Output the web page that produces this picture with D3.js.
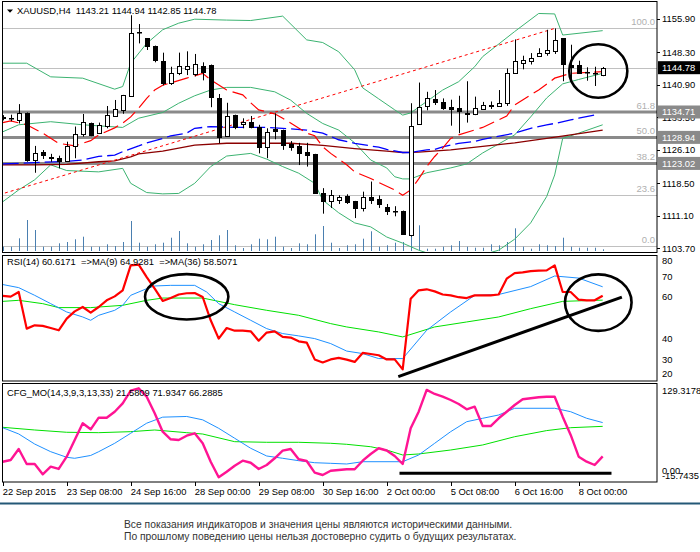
<!DOCTYPE html>
<html>
<head>
<meta charset="utf-8">
<script src="https://cdn.jsdelivr.net/npm/d3@7"></script>
<style>
  body { margin: 0; background: #fff; }
  svg text { font-family: "Liberation Sans", Arial, sans-serif; white-space: pre; }
</style>
</head>
<body>
<script>
'use strict';

// ---- values ----
const opens  = [1133.5,1133.3,1133.05,1134.55,1123.96,1125.55,1124.55,1124.25,1123.4,1126.82,
  1129.64,1132.14,1129.87,1131.37,1133.8,1135.05,1138.5,1152.8,1151.46,1149.71,
  1146.28,1141.35,1143.53,1144.6,1143.4,1145.05,1145.28,1137.94,1129.26,1134.03,
  1132.0,1132.44,1131.23,1126.69,1130.78,1130.62,1127.37,1126.98,1125.7,1125.16,
  1116.37,1114.44,1114.9,1115.7,1114.48,1113.05,1115.3,1114.94,1113.05,1112.3,
  1112.2,1106.9,1131.98,1135.9,1137.6,1136.9,1135.85,1135.55,1134.5,1134.25,
  1135.5,1136.3,1136.0,1136.6,1143.5,1145.9,1146.25,1147.6,1148.15,1148.5,
  1151.46,1145.5,1145.39,1143.8,1143.55,1143.21];
const highs  = [1134.0,1134.1,1136.5,1134.6,1127.0,1126.07,1125.2,1124.78,1127.96,1131.4,
  1134.26,1132.3,1132.3,1136.07,1137.44,1138.6,1156.7,1154.7,1151.5,1149.8,
  1148.19,1145.0,1148.2,1148.5,1147.9,1146.0,1145.5,1138.8,1136.8,1134.1,
  1133.28,1133.8,1131.8,1131.0,1134.4,1130.7,1128.1,1127.7,1127.7,1125.2,
  1117.4,1116.98,1115.8,1116.0,1114.5,1116.6,1118.9,1115.75,1113.8,1113.3,
  1112.3,1136.7,1141.4,1139.3,1139.7,1137.8,1137.5,1138.4,1141.7,1138.2,
  1137.0,1137.1,1139.7,1144.6,1151.2,1147.5,1148.1,1149.2,1153.4,1153.7,
  1151.5,1150.0,1146.37,1144.87,1145.0,1144.94];
const lows   = [1132.8,1132.6,1132.1,1123.4,1120.9,1124.03,1123.4,1121.9,1123.4,1124.2,
  1129.1,1129.2,1129.7,1131.0,1133.65,1134.3,1138.4,1150.3,1148.8,1146.0,
  1140.76,1140.85,1143.1,1143.1,1142.8,1141.9,1135.8,1127.6,1129.1,1130.8,
  1131.0,1131.0,1125.3,1124.2,1128.5,1126.1,1125.9,1122.65,1122.3,1116.3,
  1111.6,1112.9,1113.8,1113.8,1110.6,1112.1,1113.8,1112.9,1111.3,1111.0,
  1106.8,1106.4,1131.9,1135.1,1136.3,1135.2,1131.6,1129.9,1132.3,1134.0,
  1135.2,1135.4,1135.9,1136.1,1143.4,1144.4,1145.5,1147.4,1147.5,1147.9,
  1141.7,1141.6,1143.35,1141.82,1140.62,1142.85];
const closes = [1133.3,1133.4,1134.55,1123.8,1125.46,1124.78,1124.3,1123.64,1126.9,1129.64,
  1132.37,1129.3,1131.69,1133.96,1135.32,1138.5,1152.73,1152.9,1149.56,1146.53,
  1141.35,1143.53,1145.12,1145.2,1145.73,1143.75,1137.94,1129.0,1133.8,1131.23,
  1132.44,1131.37,1126.69,1130.1,1130.23,1127.2,1126.8,1125.46,1124.93,1116.37,
  1114.55,1115.8,1115.5,1114.3,1112.96,1115.46,1114.7,1113.8,1112.05,1112.2,
  1106.9,1131.6,1135.9,1137.8,1136.9,1135.55,1135.4,1134.94,1134.35,1135.55,
  1136.4,1136.0,1136.7,1143.5,1146.3,1146.5,1147.0,1148.2,1148.9,1151.1,
  1145.55,1145.1,1143.64,1143.7,1143.45,1144.78];
const volumes = [430,430,1270,3100,2100,430,430,770,900,1170,1430,430,430,670,500,900,3000,830,430,670,
  830,1330,2000,770,430,670,1100,1570,2100,570,300,670,1230,1170,1430,430,300,770,670,1670,
  2500,830,300,570,670,1230,1970,430,570,830,900,1670,2570,230,230,430,570,1000,430,330,
  330,670,570,900,2270,430,230,670,570,500,1330,430,330,330,330,170];

// Bollinger bands, [bar, price]
const bandUpper = [[0,1145.8],[3,1145.8],[6,1142.7],[10,1142.4],[14,1139.9],[15,1140.5],[16,1145.8],
  [18,1150.3],[20,1153.4],[22,1154.9],[24,1155.8],[28,1155.6],[31,1155.5],[35,1156.5],[38,1151.1],
  [40,1150.5],[42,1148.4],[44,1144.3],[45,1140.2],[47,1137.7],[49,1135.2],[50,1134.0],[51,1134.5],
  [55,1139.7],[57,1141.6],[59,1145.0],[60,1147.3],[64,1153.0],[67,1157.1],[69,1157.0],[70,1152.2],[75,1153.2]];
const bandMiddle = [[0,1130.2],[2,1131.8],[6,1132.5],[10,1131.8],[15,1131.2],[17,1133.3],[20,1134.6],
  [22,1136.7],[24,1138.4],[26,1139.7],[28,1140.3],[31,1140.3],[34,1139.3],[36,1137.4],[38,1134.4],
  [40,1132.1],[42,1130.6],[44,1127.7],[46,1123.8],[48,1122.0],[49,1120.0],[50,1119.5],[51,1119.5],
  [53,1120.9],[56,1122.0],[58,1122.9],[60,1125.4],[64,1129.5],[66,1133.6],[68,1137.9],[70,1141.1],
  [72,1142.1],[75,1143.5]];
const bandLower = [[0,1114.3],[2,1117.0],[4,1119.3],[6,1122.7],[8,1121.4],[12,1121.1],[15,1121.9],
  [16,1118.5],[18,1116.4],[20,1116.1],[22,1116.2],[24,1118.5],[26,1122.3],[28,1124.7],[31,1125.3],
  [33,1124.0],[35,1122.3],[37,1120.8],[39,1118.5],[40,1114.7],[42,1111.8],[44,1109.5],[46,1108.6],
  [48,1106.3],[50,1104.9],[52,1103.3],[55,1101.5],[58,1101.2],[62,1103.3],[64,1105.8],[66,1109.5],
  [68,1115.5],[69,1120.4],[70,1128.7],[72,1129.9],[75,1131.8]];
// moving averages, [bar, price]
const maFast = [[0,1132.3],[1,1132.7],[3,1131.8],[5,1129.9],[7,1127.6],[9,1127.0],[11,1128.2],[12,1129.5],
  [14,1131.1],[15,1132.2],[16,1133.6],[17,1135.6],[18,1137.8],[19,1139.7],[20,1140.8],[23,1142.4],
  [25,1143.5],[26,1142.0],[28,1139.7],[30,1138.6],[31,1136.8],[32,1135.2],[34,1134.3],[35,1133.3],
  [38,1129.9],[39,1129.3],[40,1126.8],[41,1125.3],[43,1122.7],[44,1121.1],[46,1119.6],[47,1118.7],
  [49,1117.0],[50,1115.8],[51,1117.0],[52,1119.5],[53,1122.3],[54,1124.6],[55,1126.5],[56,1128.7],
  [57,1129.5],[60,1131.2],[63,1133.8],[64,1136.3],[66,1138.6],[67,1139.7],[69,1142.4],[71,1143.5],[75,1143.9]];
const maBlue = [[0,1122.9],[8,1123.5],[10,1123.8],[12,1124.6],[14,1124.9],[15,1125.7],[17,1127.0],
  [18,1127.7],[20,1128.7],[21,1129.3],[23,1129.9],[24,1131.0],[26,1131.4],[29,1131.2],[33,1131.2],
  [35,1131.0],[38,1130.6],[40,1129.9],[42,1128.4],[44,1127.6],[47,1126.7],[48,1126.2],[50,1125.5],
  [51,1125.5],[53,1126.1],[54,1126.2],[55,1126.8],[57,1127.6],[59,1128.0],[60,1128.5],[64,1129.9],
  [66,1131.0],[68,1131.8],[69,1132.1],[71,1132.9],[72,1133.3],[74,1134.0]];
const maBrown = [[0,1122.7],[4,1122.7],[8,1122.8],[12,1123.4],[14,1123.6],[16,1124.5],[17,1125.2],
  [20,1125.8],[24,1127.2],[28,1127.6],[36,1127.6],[40,1127.1],[44,1126.4],[48,1125.8],[50,1125.5],
  [52,1125.6],[56,1126.1],[60,1126.9],[64,1127.7],[68,1128.7],[71,1129.5],[75,1130.6]];

// Fibonacci retracement and horizontal lines
const fibNames  = ["100.0", "61.8", "50.0", "38.2", "23.6", "0.0"];
const fibPrices = [1153.70, 1134.71, 1128.94, 1123.02, 1115.86, 1104.17];
const fibAnchors = [[-22, 1104.17], [69, 1153.70]];
const levelPrices = [1134.71, 1128.94, 1123.02];
const lastPrice = 1144.78;
const priceTicks = [1155.90, 1148.30, 1140.90, 1133.50, 1126.10, 1118.50, 1111.10, 1103.70];

// RSI window
const rsiValues = [60.5,60.2,62.4,44.8,46.4,46.1,45.1,44.0,49.6,53.1,
  55.2,52.5,55.2,58.4,60.3,63.2,75.2,75.6,69.6,64.0,
  58.1,59.5,61.2,61.8,61.9,60.0,48.8,40.0,45.1,43.8,
  43.8,43.5,39.0,42.9,43.5,40.8,40.5,38.7,38.1,30.0,
  28.5,30.0,30.7,29.9,28.8,33.1,32.6,32.0,30.0,30.0,
  25.2,59.2,63.2,63.7,62.7,61.2,60.8,59.9,59.5,60.8,
  60.8,60.8,61.2,68.8,71.5,71.8,72.4,72.7,72.8,75.2,
  62.4,62.4,58.7,58.4,58.4,60.6];
const rsiMa9 = [[0,66.0],[2,64.5],[4,60.8],[6,56.8],[8,52.8],[10,50.4],[11,48.8],[12,51.2],[14,53.6],
  [15,56.0],[16,60.8],[18,64.0],[19,65.3],[21,65.6],[24,65.6],[25.5,62.4],[27,56.8],[29,52.8],[31,48.8],
  [33,44.8],[35,42.4],[37,41.3],[39,40.0],[41,37.6],[43,34.0],[45,32.8],[47,30.4],[50,30.4],[53,44.0],
  [56,52.8],[59,60.8],[62,61.2],[66,65.0],[69,70.1],[72,69.1],[75,64.9]];
const rsiMa36 = [[0,57.9],[2,58.4],[5,56.8],[7,54.9],[11,54.9],[15,56.0],[18,58.4],[20,59.5],[25,59.5],
  [29,56.3],[33,53.6],[37,51.2],[41,47.2],[43,45.6],[47,43.2],[50,40.8],[54,45.6],[58,48.0],[62,50.4],
  [66,54.4],[70,57.9],[75,58.5]];
const rsiTicks = [80, 70, 60, 40, 30, 20];
const rsiTrend = [[49.45, 21.7], [77.4, 59.9]];

// CFG_MO window
const cfgMain = [13.7,16.3,32.6,10.3,10.3,-5.0,6.3,2.9,21.2,46.0,
  70.9,61.9,79.2,79.2,88.1,100.6,119.4,122.9,110.4,85.7,
  58.4,47.1,46.0,52.4,56.0,41.1,13.7,-9.5,-1.2,7.8,
  15.2,12.2,2.9,8.8,18.8,30.1,32.6,17.3,14.8,-2.6,
  -6.1,0.3,1.4,2.4,2.4,15.2,25.2,33.7,30.4,22.2,
  10.3,63.4,88.1,120.5,114.5,110.4,105.5,99.6,91.7,95.6,
  66.8,66.8,78.3,88.1,98.1,106.6,108.1,109.6,110.4,110.4,
  80.7,53.5,21.2,13.7,8.8,21.6];
const cfgSignal = [[0,64.3],[2,55],[4,40],[6,28.6],[8,20.3],[9,18.8],[11,23],[12,28.6],[14,41.1],[16,56],
  [18,71],[20,80],[23,81],[25,76],[27,63.4],[29,48.6],[31,33.7],[33,22.2],[35,18.8],[37,15.2],[39,12.2],
  [41,11.3],[43,10.3],[45,13.7],[50,13.7],[52,23.7],[54,41.1],[56,58.4],[58,73.2],[60,78.3],[62,83.2],
  [64,93.2],[69,93.2],[71,88.1],[73,78.3],[75,71.9]];
const cfgSlow = [[0,64.9],[4,60.9],[8,57.5],[12,56.9],[16,58.4],[19,60.9],[23,56.9],[25,54.9],[29,43.5],
  [33,42.6],[37,42.6],[41,41.1],[43,39.6],[46,36.0],[48,31.1],[50,23.7],[52,25.2],[56,31.1],[60,38.6],
  [64,50.9],[68,60.0],[71,64.3],[75,66.3]];
const cfgTicks = ["129.3178", "0.00", "-15.7435"];
const cfgTickValues = [129.3178, 0, -15.7435];
const cfgLevel = [[49.6, -3.54], [76.1, -3.54]];

// time axis
const timeTickBars = [0, 8, 16, 24, 32, 40, 48, 56, 64, 72];
const timeTickLabels = ["22 Sep 2015", "23 Sep 08:00", "24 Sep 16:00", "28 Sep 00:00", "29 Sep 08:00",
  "30 Sep 16:00", "2 Oct 00:00", "5 Oct 08:00", "6 Oct 16:00", "8 Oct 00:00"];

// hand-drawn circles: [bar, value, bar radius, value radius]
const priceCircle = [74.45, 1144.03, 3.63, 6.07];
const rsiCircles = [[23.0, 60.1, 5.21, 10.9], [74.45, 57.3, 4.16, 13.6]];

const footer = ["Все показания индикаторов и значения цены являются историческими данными.",
  "По прошлому поведению цены нельзя достоверно судить о будущих результатах."];

// ---- layout ----
const W = 700, H = 552;
const left = 2.5, right = 657;
const pricePanel = { top: 1.5, bottom: 252.5 },
      rsiPanel   = { top: 255.5, bottom: 381 },
      cfgPanel   = { top: 383.5, bottom: 482 };

const x = d3.scaleLinear().domain([0, 81.79]).range([2.7, 657]);
const yPrice = d3.scaleLinear().domain([1102.66, 1159.71]).range([253, 2]);
const yVol = d3.scaleLinear().domain([0, 10000]).range([251, 151]);
const yRsi = d3.scaleLinear().domain([20, 80]).range([380.2, 255.4]);
const yCfg = d3.scaleLinear().domain([-15.7435, 129.3178]).range([481.5, 384]);

const svg = d3.select("body").append("svg")
    .attr("width", W)
    .attr("height", H)
    .style("display", "block");

const defs = svg.append("defs");
function clip(id, p) {
    defs.append("clipPath").attr("id", id)
        .append("rect")
        .attr("x", left).attr("y", p.top)
        .attr("width", right - left).attr("height", p.bottom - p.top);
    return svg.append("g").attr("clip-path", "url(#" + id + ")");
}

function pairLine(yScale) {
    return d3.line().x(d => x(d[0])).y(d => yScale(d[1]));
}
function seriesLine(yScale) {
    return d3.line().x((d, i) => x(i)).y(d => yScale(d));
}
const snap = v => Math.round(v) + 0.5;

function frame(p) {
    svg.append("rect")
        .attr("x", left).attr("y", p.top)
        .attr("width", right - left).attr("height", p.bottom - p.top)
        .attr("fill", "none").attr("stroke", "#000").attr("stroke-width", 1);
}

function ellipse(g, c, yScale) {
    g.append("ellipse")
        .attr("cx", x(c[0])).attr("cy", yScale(c[1]))
        .attr("rx", x(c[0] + c[2]) - x(c[0]))
        .attr("ry", Math.abs(yScale(c[1] + c[3]) - yScale(c[1])))
        .attr("fill", "none").attr("stroke", "#000").attr("stroke-width", 2.6);
}

// ---- price window ----
function drawPrice() {
    const g = clip("clipPrice", pricePanel);

    g.selectAll(".fib").data(fibPrices).enter().append("line")
        .attr("x1", left).attr("x2", right)
        .attr("y1", d => snap(yPrice(d))).attr("y2", d => snap(yPrice(d)))
        .attr("stroke", "#c0c0c0");
    g.append("line")
        .attr("x1", left).attr("x2", right)
        .attr("y1", snap(yPrice(lastPrice))).attr("y2", snap(yPrice(lastPrice)))
        .attr("stroke", "#c0c0c0");

    g.selectAll(".vol").data(volumes).enter().append("line")
        .attr("x1", (d, i) => snap(x(i))).attr("x2", (d, i) => snap(x(i)))
        .attr("y1", yVol(0)).attr("y2", d => yVol(d))
        .attr("stroke", "#4a7fb0");

    g.selectAll(".lvl").data(levelPrices).enter().append("line")
        .attr("x1", left).attr("x2", right)
        .attr("y1", d => yPrice(d)).attr("y2", d => yPrice(d))
        .attr("stroke", "#8a8a8a").attr("stroke-width", 3);

    const pl = pairLine(yPrice);
    [bandUpper, bandMiddle, bandLower].forEach(b => {
        g.append("path").attr("d", pl(b)).attr("fill", "none")
            .attr("stroke", "#3cb371").attr("stroke-width", 1);
    });
    g.append("path").attr("d", pl(maBrown)).attr("fill", "none")
        .attr("stroke", "#8b0000").attr("stroke-width", 1.3);
    g.append("path").attr("d", pl(maBlue)).attr("fill", "none")
        .attr("stroke", "#0000ff").attr("stroke-width", 1.3).attr("stroke-dasharray", "16,5");
    g.append("path").attr("d", pl(maFast)).attr("fill", "none")
        .attr("stroke", "#ff0000").attr("stroke-width", 1.2).attr("stroke-dasharray", "16,6");
    g.append("path").attr("d", pl(fibAnchors)).attr("fill", "none")
        .attr("stroke", "#ff0000").attr("stroke-width", 1).attr("stroke-dasharray", "3,3");

    // candles
    const candles = g.selectAll(".candle").data(opens).enter().append("g");
    candles.append("line")
        .attr("x1", (d, i) => snap(x(i))).attr("x2", (d, i) => snap(x(i)))
        .attr("y1", (d, i) => yPrice(highs[i])).attr("y2", (d, i) => yPrice(lows[i]))
        .attr("stroke", "#000");
    candles.append("rect")
        .attr("x", (d, i) => snap(x(i)) - 2)
        .attr("width", 4)
        .attr("y", (d, i) => Math.round(yPrice(Math.max(d, closes[i]))) + 0.5)
        .attr("height", (d, i) => Math.max(0.5, Math.round(Math.abs(yPrice(d) - yPrice(closes[i])))))
        .attr("fill", (d, i) => closes[i] >= d ? "#fff" : "#000")
        .attr("stroke", "#000");

    // fibo level captions
    g.selectAll(".fibTxt").data(fibNames).enter().append("text")
        .attr("x", 655).attr("y", (d, i) => yPrice(fibPrices[i]) - 3)
        .attr("text-anchor", "end")
        .attr("font-size", 9.5).attr("fill", "#b0b0b0")
        .text(d => d);

    ellipse(g, priceCircle, yPrice);

    frame(pricePanel);

    // title
    svg.append("path").attr("d", "M7,9.5 L13,9.5 L10,12.8 Z").attr("fill", "#000");
    svg.append("text").attr("x", 17).attr("y", 14)
        .attr("font-size", 9.4).attr("fill", "#000")
        .text("XAUUSD,H4  1143.21 1144.94 1142.85 1144.78");

    // price scale
    const axis = svg.append("g");
    axis.selectAll("text").data(priceTicks).enter().append("text")
        .attr("x", 662).attr("y", d => yPrice(d) + 3.3)
        .attr("font-size", 9.4).attr("fill", "#000")
        .text(d => d.toFixed(2));
    axis.selectAll(".tk").data(priceTicks).enter().append("line")
        .attr("x1", right).attr("x2", right + 3)
        .attr("y1", d => snap(yPrice(d))).attr("y2", d => snap(yPrice(d)))
        .attr("stroke", "#000");

    const tags = levelPrices.map(p => ({ p: p, fill: "#8a8a8a" }))
        .concat([{ p: lastPrice, fill: "#000" }]);
    const tag = axis.selectAll(".tag").data(tags).enter().append("g");
    tag.append("rect")
        .attr("x", right + 1).attr("y", d => yPrice(d.p) - 6.5)
        .attr("width", W - right - 1).attr("height", 13)
        .attr("fill", d => d.fill);
    tag.append("text")
        .attr("x", 662).attr("y", d => yPrice(d.p) + 3.5)
        .attr("font-size", 9.4).attr("fill", "#fff")
        .text(d => d.p.toFixed(2));
}

// ---- RSI window ----
function drawRsi() {
    const g = clip("clipRsi", rsiPanel);
    const pl = pairLine(yRsi);
    g.append("path").attr("d", pl(rsiMa36)).attr("fill", "none")
        .attr("stroke", "#00e000").attr("stroke-width", 1);
    g.append("path").attr("d", pl(rsiMa9)).attr("fill", "none")
        .attr("stroke", "#1e90ff").attr("stroke-width", 1);
    g.append("path").attr("d", seriesLine(yRsi)(rsiValues)).attr("fill", "none")
        .attr("stroke", "#ff0000").attr("stroke-width", 2.2).attr("stroke-linejoin", "round");
    g.append("path").attr("d", pl(rsiTrend)).attr("fill", "none")
        .attr("stroke", "#000").attr("stroke-width", 3);
    rsiCircles.forEach(c => ellipse(g, c, yRsi));
    frame(rsiPanel);

    svg.append("text").attr("x", 7).attr("y", 265)
        .attr("font-size", 9.4).attr("fill", "#000")
        .text("RSI(14) 60.6171  =>MA(9) 64.9281  =>MA(36) 58.5071");
    svg.append("g").selectAll("text").data(rsiTicks).enter().append("text")
        .attr("x", 662)
        .attr("y", d => Math.min(Math.max(yRsi(d), 261), 374) + 3.3)
        .attr("font-size", 9.4).attr("fill", "#000")
        .text(d => d);
}

// ---- CFG_MO window ----
function drawCfg() {
    const g = clip("clipCfg", cfgPanel);
    const pl = pairLine(yCfg);
    g.append("path").attr("d", pl(cfgSlow)).attr("fill", "none")
        .attr("stroke", "#00e000").attr("stroke-width", 1);
    g.append("path").attr("d", pl(cfgSignal)).attr("fill", "none")
        .attr("stroke", "#1e90ff").attr("stroke-width", 1);
    g.append("path").attr("d", seriesLine(yCfg)(cfgMain)).attr("fill", "none")
        .attr("stroke", "#ff1493").attr("stroke-width", 2.4).attr("stroke-linejoin", "round");
    g.append("path").attr("d", pl(cfgLevel)).attr("fill", "none")
        .attr("stroke", "#000").attr("stroke-width", 3);
    frame(cfgPanel);

    svg.append("text").attr("x", 7).attr("y", 396)
        .attr("font-size", 9.4).attr("fill", "#000")
        .text("CFG_MO(14,3,9,3,13,33) 21.5809 71.9347 66.2885");
    svg.append("g").selectAll("text").data(cfgTicks).enter().append("text")
        .attr("x", 662)
        .attr("y", (d, i) => Math.min(Math.max(yCfg(cfgTickValues[i]), 390.5), 476) + 3.3)
        .attr("font-size", 9.4).attr("fill", "#000")
        .text(d => d);
}

// ---- time axis and footer ----
function drawTime() {
    const g = svg.append("g");
    g.selectAll("line").data(timeTickBars).enter().append("line")
        .attr("x1", d => snap(x(d))).attr("x2", d => snap(x(d)))
        .attr("y1", cfgPanel.bottom).attr("y2", cfgPanel.bottom + 4)
        .attr("stroke", "#000");
    g.selectAll("text").data(timeTickLabels).enter().append("text")
        .attr("x", (d, i) => x(timeTickBars[i]))
        .attr("y", 495)
        .attr("font-size", 9.4).attr("fill", "#000")
        .text(d => d);

    svg.append("line")
        .attr("x1", 0).attr("x2", W).attr("y1", 503.5).attr("y2", 503.5)
        .attr("stroke", "#245877").attr("stroke-width", 2);

    svg.selectAll(".foot").data(footer).enter().append("text")
        .attr("x", 124).attr("y", (d, i) => 528 + i * 12)
        .attr("font-size", 10.3).attr("fill", "#333")
        .text(d => d);
}

drawPrice();
drawRsi();
drawCfg();
drawTime();
</script>
</body>
</html>
